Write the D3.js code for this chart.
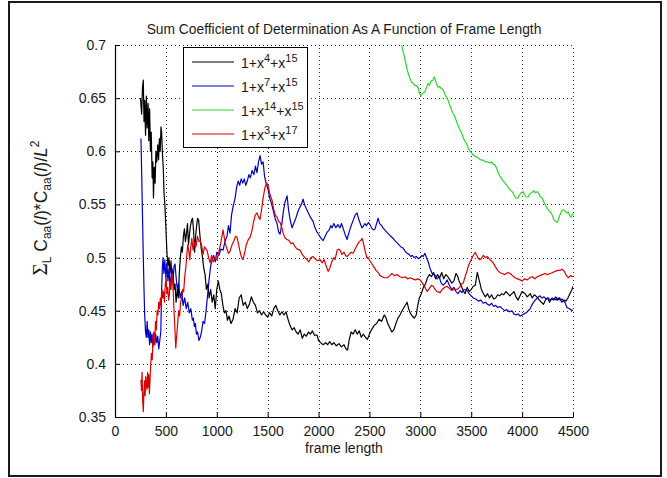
<!DOCTYPE html>
<html>
<head>
<meta charset="utf-8">
<script src="https://cdn.jsdelivr.net/npm/d3@7"></script>
<style>
  body { margin: 0; background: #fff; }
  text { font-family: Arial, "Liberation Sans", sans-serif; fill: #1a1a1a; }
</style>
</head>
<body>
<svg id="chart" width="667" height="478"></svg>
<script>
// Axis ticks
const xTickValues = [0, 500, 1000, 1500, 2000, 2500, 3000, 3500, 4000, 4500];
const yTickValues = [0.35, 0.4, 0.45, 0.5, 0.55, 0.6, 0.65, 0.7];

// Legend entries: [base, exponent 1, exponent 2]
const polyNames = [["1+x", "4", "15"], ["1+x", "7", "15"], ["1+x", "14", "15"], ["1+x", "3", "17"]];
const polyColors = ["#000000", "#0000c8", "#2ad82a", "#dd0000"];

// Sum coefficient of determination vs frame length, 1+x^4+x^15
const poly4_15 = [
  [250,0.650],[262,0.635],[270,0.660],[278,0.667],[285,0.628],[292,0.648],[300,0.615],[308,0.652],
  [316,0.622],[325,0.645],[332,0.610],[340,0.640],[348,0.600],[356,0.618],[365,0.575],[372,0.590],
  [378,0.556],[386,0.585],[394,0.570],[402,0.600],[410,0.590],[420,0.606],[428,0.592],[436,0.612],
  [444,0.600],[452,0.623],[458,0.618],[466,0.598],[474,0.585],[482,0.560],[490,0.550],[500,0.528],
  [510,0.505],[520,0.492],[530,0.500],[540,0.485],[550,0.497],[560,0.478],[570,0.488],[580,0.470],
  [590,0.475],[600,0.458],[612,0.470],[622,0.462],[632,0.485],[642,0.500],[652,0.510],[662,0.505],
  [672,0.520],[682,0.527],[692,0.515],[702,0.522],[712,0.532],[722,0.512],[732,0.522],[742,0.530],
  [752,0.535],[762,0.537],[772,0.525],[782,0.505],[792,0.520],[802,0.530],[812,0.537],[822,0.535],
  [835,0.520],[848,0.508],[860,0.500],[872,0.490],[885,0.484],[898,0.470],[912,0.475],[925,0.462],
  [940,0.470],[955,0.458],[970,0.465],[985,0.452],[1000,0.470],[1015,0.478],[1030,0.470],[1045,0.466],
  [1060,0.455],[1075,0.448],[1090,0.450],[1105,0.441],[1120,0.445],[1140,0.438],[1160,0.442],[1180,0.452],
  [1200,0.448],[1220,0.462],[1240,0.465],[1260,0.455],[1280,0.458],[1300,0.452],[1320,0.456],[1340,0.463],
  [1360,0.458],[1380,0.455],[1400,0.448],[1420,0.450],[1440,0.446],[1460,0.449],[1480,0.446],[1500,0.444],
  [1520,0.448],[1540,0.445],[1560,0.452],[1580,0.455],[1600,0.450],[1620,0.446],[1640,0.449],[1660,0.446],
  [1680,0.449],[1700,0.442],[1720,0.436],[1740,0.432],[1760,0.434],[1780,0.430],[1800,0.428],[1820,0.432],
  [1840,0.424],[1860,0.428],[1880,0.426],[1900,0.430],[1920,0.428],[1940,0.431],[1960,0.427],[1985,0.427],
  [2000,0.422],[2020,0.420],[2045,0.418],[2070,0.420],[2090,0.418],[2110,0.421],[2130,0.418],[2150,0.420],
  [2175,0.417],[2200,0.419],[2225,0.416],[2250,0.418],[2270,0.414],[2285,0.413],[2300,0.422],[2320,0.430],
  [2340,0.428],[2360,0.432],[2380,0.428],[2400,0.431],[2420,0.425],[2440,0.428],[2460,0.425],[2480,0.423],
  [2500,0.428],[2520,0.432],[2545,0.436],[2570,0.438],[2595,0.442],[2620,0.440],[2645,0.446],[2660,0.444],
  [2680,0.438],[2700,0.434],[2720,0.430],[2740,0.432],[2760,0.438],[2780,0.443],[2800,0.446],[2820,0.450],
  [2845,0.454],[2870,0.458],[2885,0.452],[2900,0.448],[2920,0.445],[2940,0.443],[2960,0.446],[2975,0.455],
  [2990,0.462],[3010,0.466],[3030,0.472],[3050,0.475],[3070,0.481],[3090,0.484],[3110,0.482],[3130,0.486],
  [3150,0.480],[3170,0.484],[3190,0.481],[3210,0.486],[3230,0.480],[3250,0.484],[3270,0.482],[3290,0.479],
  [3310,0.476],[3330,0.478],[3350,0.485],[3365,0.483],[3380,0.478],[3400,0.474],[3420,0.469],[3440,0.466],
  [3460,0.472],[3480,0.468],[3500,0.470],[3520,0.473],[3540,0.474],[3560,0.486],[3580,0.478],[3600,0.470],
  [3620,0.466],[3640,0.463],[3660,0.466],[3680,0.462],[3700,0.465],[3720,0.461],[3740,0.462],[3760,0.465],
  [3780,0.464],[3800,0.466],[3820,0.465],[3840,0.468],[3860,0.466],[3880,0.464],[3900,0.466],[3920,0.468],
  [3940,0.463],[3960,0.460],[3980,0.464],[4000,0.468],[4030,0.466],[4050,0.463],[4080,0.466],[4100,0.462],
  [4120,0.465],[4145,0.463],[4170,0.460],[4190,0.458],[4210,0.456],[4230,0.460],[4250,0.462],[4270,0.458],
  [4290,0.461],[4310,0.460],[4330,0.463],[4350,0.460],[4370,0.462],[4390,0.458],[4410,0.460],[4430,0.459],
  [4450,0.462],[4470,0.466],[4490,0.470],[4500,0.473]
];

// 1+x^7+x^15
const poly7_15 = [
  [255,0.612],[262,0.580],[270,0.540],[278,0.500],[285,0.470],[292,0.445],[300,0.430],[308,0.425],
  [316,0.440],[324,0.425],[332,0.432],[340,0.418],[348,0.430],[356,0.420],[364,0.428],[372,0.416],
  [380,0.425],[390,0.418],[400,0.428],[410,0.420],[420,0.426],[430,0.414],[440,0.422],[450,0.430],
  [458,0.470],[465,0.490],[472,0.500],[480,0.485],[490,0.498],[500,0.480],[510,0.495],[520,0.478],
  [530,0.490],[540,0.472],[550,0.482],[560,0.490],[570,0.478],[580,0.492],[590,0.494],[600,0.482],
  [612,0.470],[625,0.476],[640,0.462],[655,0.468],[670,0.455],[685,0.462],[700,0.452],[715,0.458],
  [730,0.448],[745,0.452],[760,0.441],[770,0.443],[780,0.435],[790,0.438],[800,0.428],[812,0.430],
  [825,0.422],[838,0.425],[850,0.430],[865,0.440],[880,0.438],[895,0.450],[910,0.465],[925,0.480],
  [940,0.492],[955,0.498],[970,0.502],[985,0.496],[1000,0.505],[1020,0.502],[1040,0.508],[1062,0.507],
  [1080,0.515],[1100,0.520],[1115,0.530],[1130,0.523],[1145,0.540],[1160,0.548],[1180,0.556],[1195,0.566],
  [1210,0.572],[1225,0.568],[1240,0.574],[1255,0.570],[1270,0.574],[1285,0.568],[1300,0.572],[1315,0.578],
  [1330,0.575],[1347,0.582],[1365,0.578],[1380,0.586],[1395,0.580],[1410,0.590],[1425,0.596],[1440,0.588],
  [1455,0.590],[1470,0.576],[1485,0.570],[1504,0.564],[1520,0.556],[1540,0.550],[1560,0.542],[1575,0.536],
  [1592,0.532],[1608,0.524],[1622,0.522],[1640,0.532],[1655,0.544],[1670,0.552],[1691,0.558],[1705,0.545],
  [1720,0.536],[1740,0.528],[1760,0.533],[1780,0.538],[1800,0.544],[1820,0.548],[1835,0.551],[1848,0.555],
  [1862,0.550],[1880,0.546],[1900,0.542],[1920,0.538],[1946,0.534],[1965,0.528],[1985,0.524],[2005,0.521],
  [2025,0.518],[2045,0.516],[2065,0.520],[2085,0.524],[2105,0.526],[2120,0.530],[2133,0.528],[2150,0.532],
  [2170,0.528],[2190,0.531],[2211,0.528],[2225,0.532],[2240,0.528],[2260,0.522],[2280,0.517],[2300,0.524],
  [2320,0.530],[2340,0.535],[2360,0.540],[2378,0.542],[2395,0.536],[2410,0.532],[2425,0.528],[2437,0.529],
  [2455,0.532],[2470,0.530],[2490,0.533],[2506,0.531],[2520,0.528],[2540,0.526],[2555,0.527],[2570,0.532],
  [2585,0.537],[2600,0.532],[2620,0.530],[2634,0.528],[2650,0.526],[2670,0.524],[2690,0.522],[2710,0.520],
  [2733,0.518],[2750,0.516],[2770,0.514],[2790,0.512],[2810,0.510],[2830,0.509],[2850,0.506],[2870,0.504],
  [2890,0.503],[2905,0.501],[2920,0.502],[2940,0.500],[2960,0.501],[2980,0.499],[3000,0.500],[3015,0.502],
  [3028,0.501],[3045,0.504],[3060,0.500],[3077,0.496],[3095,0.490],[3116,0.485],[3140,0.484],[3165,0.480],
  [3185,0.482],[3205,0.476],[3225,0.474],[3245,0.476],[3263,0.479],[3285,0.474],[3310,0.470],[3330,0.472],
  [3350,0.468],[3370,0.466],[3390,0.469],[3410,0.467],[3430,0.470],[3460,0.469],[3480,0.466],[3500,0.464],
  [3520,0.462],[3545,0.461],[3570,0.459],[3595,0.460],[3617,0.457],[3640,0.458],[3660,0.456],[3680,0.455],
  [3700,0.457],[3720,0.454],[3740,0.455],[3760,0.453],[3783,0.454],[3805,0.452],[3830,0.450],[3850,0.451],
  [3875,0.449],[3900,0.450],[3920,0.447],[3940,0.446],[3960,0.447],[3980,0.445],[4000,0.446],[4020,0.447],
  [4040,0.448],[4060,0.450],[4080,0.452],[4100,0.456],[4120,0.459],[4140,0.461],[4160,0.463],[4175,0.464],
  [4195,0.462],[4215,0.463],[4235,0.461],[4255,0.462],[4275,0.460],[4295,0.462],[4315,0.461],[4335,0.460],
  [4355,0.462],[4375,0.460],[4395,0.461],[4410,0.459],[4425,0.457],[4440,0.453],[4460,0.452],[4480,0.451],
  [4500,0.450]
];

// 1+x^14+x^15 (enters the axes from above 0.7)
const poly14_15 = [
  [2780,0.712],[2800,0.704],[2821,0.698],[2840,0.690],[2855,0.684],[2870,0.677],[2885,0.672],[2900,0.668],
  [2915,0.665],[2929,0.664],[2945,0.662],[2960,0.662],[2978,0.660],[2990,0.655],[3005,0.652],[3017,0.654],
  [3030,0.655],[3046,0.656],[3060,0.660],[3077,0.664],[3090,0.662],[3105,0.666],[3126,0.667],[3135,0.670],
  [3145,0.668],[3160,0.663],[3175,0.660],[3190,0.661],[3205,0.659],[3224,0.658],[3240,0.654],[3255,0.651],
  [3273,0.648],[3290,0.643],[3310,0.638],[3325,0.635],[3341,0.632],[3360,0.627],[3375,0.623],[3390,0.620],
  [3410,0.616],[3425,0.612],[3440,0.609],[3460,0.606],[3475,0.602],[3490,0.600],[3508,0.598],[3525,0.596],
  [3545,0.595],[3565,0.594],[3587,0.592],[3605,0.592],[3625,0.591],[3645,0.590],[3665,0.590],[3685,0.589],
  [3700,0.590],[3715,0.588],[3734,0.587],[3750,0.584],[3764,0.580],[3780,0.577],[3800,0.574],[3815,0.572],
  [3833,0.570],[3850,0.568],[3870,0.565],[3890,0.563],[3911,0.561],[3925,0.558],[3940,0.556],[3960,0.556],
  [3975,0.559],[3990,0.561],[4009,0.562],[4025,0.559],[4040,0.557],[4058,0.557],[4075,0.560],[4095,0.561],
  [4115,0.563],[4130,0.561],[4148,0.562],[4165,0.560],[4180,0.557],[4197,0.556],[4215,0.552],[4235,0.548],
  [4255,0.545],[4276,0.543],[4295,0.540],[4310,0.536],[4330,0.534],[4345,0.533],[4360,0.537],[4375,0.541],
  [4390,0.544],[4403,0.545],[4420,0.544],[4440,0.542],[4452,0.543],[4465,0.540],[4480,0.538],[4500,0.542]
];

// 1+x^3+x^17
const poly3_17 = [
  [255,0.385],[260,0.375],[266,0.392],[272,0.365],[278,0.355],[284,0.372],[290,0.384],[296,0.370],
  [302,0.388],[308,0.380],[314,0.376],[320,0.392],[326,0.378],[332,0.390],[338,0.372],[344,0.385],
  [350,0.398],[358,0.410],[366,0.404],[374,0.425],[382,0.430],[390,0.418],[398,0.440],[406,0.432],
  [414,0.450],[422,0.446],[430,0.458],[438,0.452],[446,0.462],[454,0.455],[462,0.470],[470,0.462],
  [478,0.468],[486,0.458],[494,0.475],[502,0.480],[510,0.466],[518,0.472],[526,0.460],[534,0.465],
  [542,0.478],[550,0.470],[560,0.485],[566,0.478],[572,0.468],[580,0.450],[590,0.430],[597,0.415],
  [605,0.425],[615,0.437],[625,0.450],[635,0.445],[645,0.458],[655,0.462],[665,0.470],[675,0.468],
  [685,0.482],[695,0.490],[705,0.502],[715,0.512],[725,0.506],[735,0.498],[745,0.510],[755,0.518],
  [767,0.507],[780,0.514],[795,0.510],[810,0.520],[825,0.515],[836,0.516],[850,0.512],[865,0.503],
  [880,0.510],[895,0.508],[904,0.507],[920,0.500],[934,0.495],[950,0.502],[965,0.496],[980,0.500],
  [1003,0.498],[1020,0.505],[1040,0.514],[1062,0.526],[1080,0.515],[1100,0.508],[1115,0.504],[1130,0.506],
  [1150,0.512],[1170,0.516],[1185,0.520],[1199,0.519],[1215,0.512],[1230,0.505],[1245,0.500],[1258,0.498],
  [1275,0.505],[1290,0.512],[1310,0.517],[1327,0.519],[1345,0.525],[1360,0.533],[1378,0.540],[1396,0.542],
  [1410,0.538],[1425,0.536],[1440,0.545],[1455,0.556],[1474,0.566],[1490,0.570],[1504,0.568],[1520,0.560],
  [1543,0.554],[1560,0.545],[1575,0.540],[1592,0.538],[1608,0.534],[1622,0.533],[1640,0.528],[1655,0.522],
  [1675,0.518],[1691,0.517],[1710,0.516],[1730,0.513],[1749,0.514],[1770,0.510],[1790,0.508],[1818,0.507],
  [1840,0.503],[1865,0.500],[1887,0.498],[1905,0.496],[1925,0.500],[1946,0.501],[1965,0.499],[1990,0.497],
  [2015,0.498],[2035,0.495],[2055,0.498],[2075,0.492],[2094,0.487],[2110,0.490],[2130,0.496],[2150,0.500],
  [2162,0.498],[2183,0.507],[2200,0.508],[2211,0.507],[2230,0.503],[2250,0.505],[2265,0.502],[2280,0.501],
  [2300,0.503],[2320,0.505],[2339,0.504],[2360,0.508],[2380,0.512],[2400,0.515],[2415,0.516],[2428,0.518],
  [2445,0.512],[2460,0.505],[2475,0.500],[2487,0.500],[2505,0.497],[2525,0.494],[2545,0.491],[2565,0.488],
  [2585,0.486],[2605,0.483],[2625,0.482],[2645,0.481],[2674,0.481],[2700,0.483],[2720,0.485],[2745,0.483],
  [2772,0.484],[2800,0.482],[2825,0.481],[2850,0.482],[2875,0.480],[2900,0.481],[2925,0.480],[2950,0.479],
  [2975,0.480],[2998,0.479],[3020,0.476],[3045,0.472],[3067,0.468],[3090,0.471],[3110,0.474],[3126,0.473],
  [3145,0.470],[3165,0.468],[3194,0.467],[3215,0.470],[3240,0.472],[3263,0.473],[3285,0.471],[3310,0.469],
  [3335,0.470],[3362,0.470],[3385,0.472],[3405,0.475],[3421,0.476],[3440,0.482],[3460,0.488],[3475,0.493],
  [3490,0.496],[3505,0.499],[3520,0.502],[3539,0.505],[3555,0.502],[3570,0.499],[3588,0.498],[3605,0.500],
  [3620,0.502],[3640,0.500],[3657,0.501],[3675,0.499],[3695,0.497],[3716,0.495],[3740,0.491],[3760,0.488],
  [3780,0.486],[3804,0.485],[3830,0.484],[3860,0.486],[3883,0.485],[3905,0.483],[3930,0.481],[3955,0.480],
  [3981,0.479],[4000,0.478],[4025,0.480],[4050,0.479],[4075,0.481],[4100,0.482],[4125,0.480],[4148,0.482],
  [4175,0.483],[4200,0.484],[4225,0.485],[4250,0.484],[4276,0.485],[4300,0.486],[4325,0.487],[4350,0.488],
  [4374,0.488],[4395,0.489],[4415,0.487],[4430,0.484],[4453,0.481],[4475,0.483],[4500,0.482]
];

const seriesList = [poly4_15, poly7_15, poly14_15, poly3_17];

const svg = d3.select("#chart");
const plot = { left: 115, right: 573, top: 45, bottom: 417 };

// Frame around the whole figure
svg.append("rect")
  .attr("x", 9).attr("y", 2).attr("width", 652).attr("height", 474)
  .attr("fill", "#fff").attr("stroke", "#1a1a1a").attr("stroke-width", 2);

const x = d3.scaleLinear().domain([0, 4500]).range([plot.left, plot.right]);
const y = d3.scaleLinear().domain([0.35, 0.7]).range([plot.bottom, plot.top]);

// Dotted grid
const grid = svg.append("g").attr("stroke", "#333").attr("stroke-width", 1)
  .attr("stroke-dasharray", "1,3");
grid.selectAll("line.v").data(xTickValues.filter(d => d > 0)).join("line")
  .attr("x1", d => Math.round(x(d)) + 0.5).attr("x2", d => Math.round(x(d)) + 0.5)
  .attr("y1", plot.bottom).attr("y2", plot.top);
grid.selectAll("line.h").data(yTickValues.filter(d => d > 0.35)).join("line")
  .attr("y1", d => Math.round(y(d)) + 0.5).attr("y2", d => Math.round(y(d)) + 0.5)
  .attr("x1", plot.left).attr("x2", plot.right);

// Data lines
svg.append("clipPath").attr("id", "plotClip").append("rect")
  .attr("x", plot.left).attr("y", plot.top)
  .attr("width", plot.right - plot.left).attr("height", plot.bottom - plot.top);

const line = d3.line().x(d => x(d[0])).y(d => y(d[1]));
svg.append("g").attr("clip-path", "url(#plotClip)")
  .selectAll("path").data(seriesList).join("path")
  .attr("d", line)
  .attr("fill", "none")
  .attr("stroke", (d, i) => polyColors[i])
  .attr("stroke-width", 1.2)
  .attr("stroke-linejoin", "round");

// Axes with inward ticks
const xAxis = d3.axisBottom(x).tickValues(xTickValues).tickFormat(d3.format("d"))
  .tickSizeInner(-5).tickSizeOuter(0).tickPadding(9);
const gx = svg.append("g").attr("transform", `translate(0,${plot.bottom})`).call(xAxis);

const yAxis = d3.axisLeft(y).tickValues(yTickValues).tickFormat(d => String(+d.toFixed(2)))
  .tickSizeInner(-5).tickSizeOuter(0).tickPadding(9);
const gy = svg.append("g").attr("transform", `translate(${plot.left},0)`).call(yAxis);

[gx, gy].forEach(g => {
  g.select(".domain").attr("stroke", "#000").attr("stroke-width", 1.2);
  g.selectAll(".tick line").attr("stroke", "#000");
  g.selectAll(".tick text").attr("font-size", 14).attr("fill", "#2a2a2a")
    .style("font-family", "Arial, 'Liberation Sans', sans-serif");
});

// Title and x label
svg.append("text").attr("x", (plot.left + plot.right) / 2).attr("y", 34)
  .attr("text-anchor", "middle").attr("font-size", 13.8)
  .text("Sum Coefficient of Determination As A Function of Frame Length");

svg.append("text").attr("x", (plot.left + plot.right) / 2).attr("y", 453)
  .attr("text-anchor", "middle").attr("font-size", 14)
  .text("frame length");

// Y label: Σ_L C_aa(l)*C_aa(l)/L²
const yl = svg.append("text")
  .attr("transform", "translate(47,208) rotate(-90)")
  .attr("text-anchor", "middle").attr("font-size", 17.5);
yl.append("tspan").style("font-family", "'Liberation Serif', 'DejaVu Serif', serif").attr("font-size", 21).text("\u03A3");
yl.append("tspan").attr("font-size", 12).attr("dy", 4).text("L");
yl.append("tspan").attr("dy", -4).text(" C");
yl.append("tspan").attr("font-size", 12).attr("dy", 4).text("aa");
yl.append("tspan").attr("dy", -4).text("(");
yl.append("tspan").attr("font-style", "italic").text("l");
yl.append("tspan").text(")*C");
yl.append("tspan").attr("font-size", 12).attr("dy", 4).text("aa");
yl.append("tspan").attr("dy", -4).text("(");
yl.append("tspan").attr("font-style", "italic").text("l");
yl.append("tspan").text(")/");
yl.append("tspan").attr("font-style", "italic").text("L");
yl.append("tspan").attr("font-size", 12).attr("dy", -8).text("2");

// Legend
const lg = svg.append("g");
lg.append("rect").attr("x", 183.5).attr("y", 47.5).attr("width", 124).attr("height", 100)
  .attr("fill", "#fff").attr("stroke", "#000").attr("stroke-width", 1);
const rows = [62, 86, 110, 134];
polyNames.forEach((p, i) => {
  lg.append("line").attr("x1", 192).attr("x2", 234)
    .attr("y1", rows[i]).attr("y2", rows[i])
    .attr("stroke", polyColors[i]).attr("stroke-width", 1.2);
  const t = lg.append("text").attr("x", 241).attr("y", rows[i] + 6).attr("font-size", 14);
  t.append("tspan").text(p[0]);
  t.append("tspan").attr("font-size", 11).attr("dy", -6).text(p[1]);
  t.append("tspan").attr("dy", 6).text("+x");
  t.append("tspan").attr("font-size", 11).attr("dy", -6).text(p[2]);
});
</script>
</body>
</html>
